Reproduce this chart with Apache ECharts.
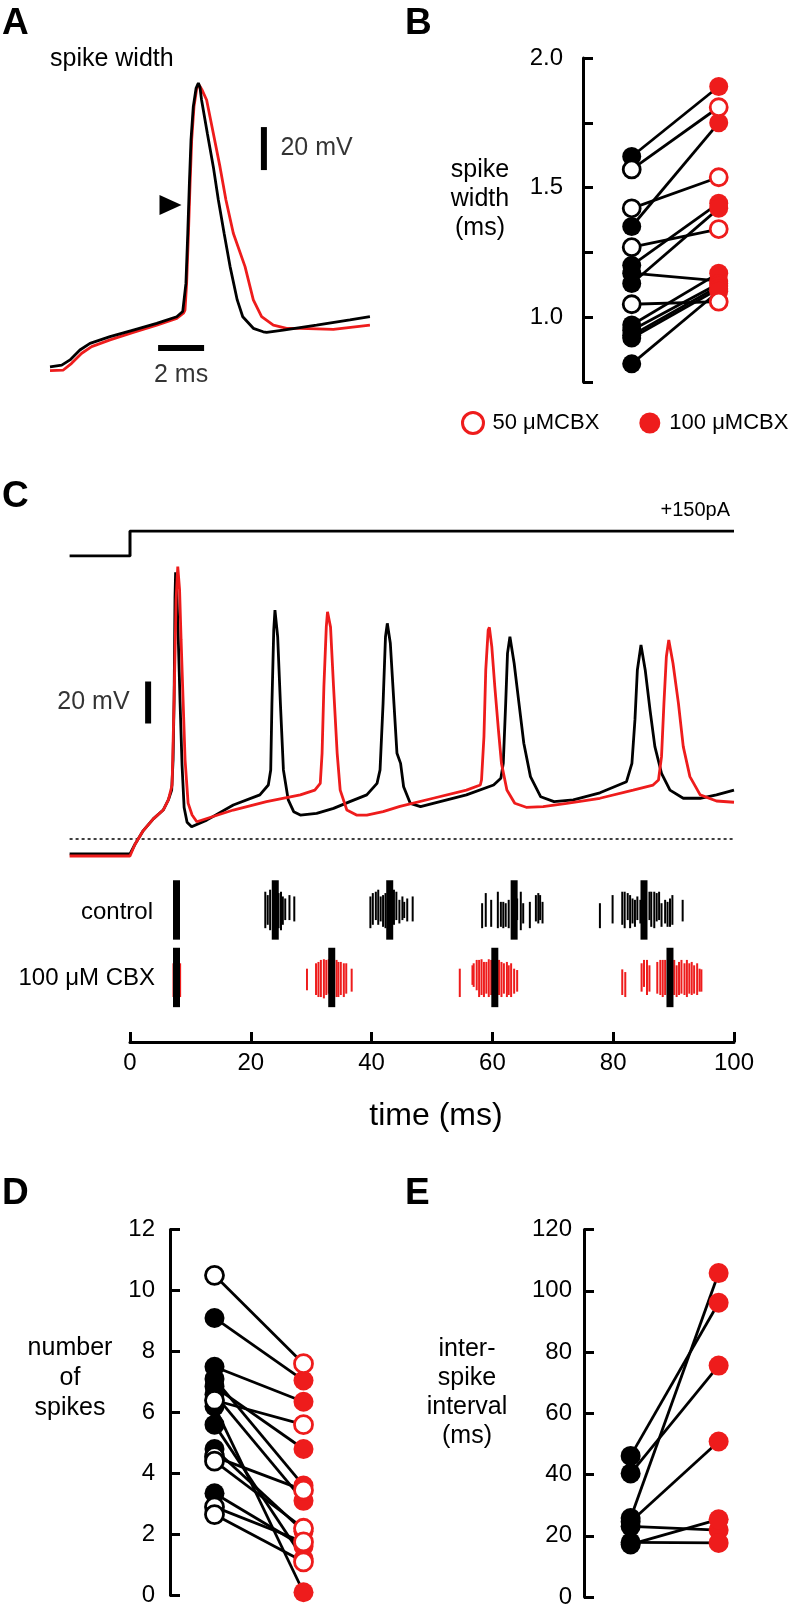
<!DOCTYPE html>
<html>
<head>
<meta charset="utf-8">
<script src="https://cdn.jsdelivr.net/npm/echarts@6/dist/echarts.min.js"></script>
<style>
html,body{margin:0;padding:0;background:#fff;}
#chart{width:798px;height:1614px;}
</style>
</head>
<body>
<div id="chart"></div>
<script>
// ---------------- DATA ----------------
// Panel A: single spike, time (ms) vs membrane potential (mV)
const aControl = [[0,-92],[0.51,-91.2],[0.87,-88.8],[1.30,-84.2],[1.74,-81.1],[2.61,-78],[3.62,-74.9],[4.64,-71.8],[5.51,-68.7],[5.77,-66.3],[5.84,-65.6],[5.91,-53.2],[5.99,-29.9],[6.06,-6.7],[6.13,13.5],[6.23,29],[6.35,37.5],[6.45,40],[6.52,38],[6.59,32.1],[6.84,16.6],[7.10,1.1],[7.32,-14.4],[7.57,-29.9],[7.83,-45.4],[8.14,-60.9],[8.38,-68.7],[8.84,-74.1],[9.27,-75.7],[9.42,-76],[10.14,-74.9],[11.59,-72.6],[13.04,-70.2],[13.91,-68.7]];
const aCbx = [[0,-93.8],[0.58,-93.5],[0.94,-90.4],[1.38,-85.7],[1.81,-82.6],[2.61,-79.5],[3.62,-76],[4.64,-72.6],[5.51,-69.5],[5.80,-67.1],[5.87,-65.6],[5.94,-53.2],[6.02,-29.9],[6.09,-6.7],[6.16,13.5],[6.26,29],[6.38,37.5],[6.49,39],[6.60,37],[6.81,32.1],[7.10,16.6],[7.39,1.1],[7.65,-14.4],[7.97,-29.9],[8.48,-45.4],[8.84,-60.9],[9.20,-68.7],[9.71,-72.6],[10.29,-74.1],[10.87,-74.1],[12.32,-74.6],[13.91,-72.6]];
const aScaleMv = 20, aScaleMs = 2;

// Panel B: spike width (ms), control vs CBX, paired cells
const bControl = [1.62, 1.57, 1.42, 1.35, 1.27, 1.20, 1.17, 1.13, 1.05, 0.97, 0.95, 0.93, 0.92, 0.82];
const bCbx     = [1.89, 1.81, 1.54, 1.75, 1.34, 1.44, 1.14, 1.42, 1.06, 1.17, 1.13, 1.12, 1.11, 1.10];
const bDose    = [100, 50, 50, 100, 50, 100, 100, 100, 50, 100, 100, 100, 100, 100];
const bTicks = ['1.0', '1.5', '2.0'];

// Panel C: current step (pA) and voltage traces (mV relative to dotted baseline)
const cStep = [[-10,0],[0,0],[0,150],[100,150]];
const cControl = [[-10,-7.1],[0,-7.1],[0.83,-2.5],[2.2,4],[3.86,9.6],[5.5,13.8],[6.35,18.6],[6.9,23.3],[7.13,37.6],[7.3,66.2],[7.45,115],[7.55,127],[7.7,122],[7.95,100],[8.29,65],[8.62,35],[8.96,15],[9.45,8],[10.2,5.8],[12.7,9],[17.1,16.2],[21.5,21],[22.9,25.7],[23.3,32.9],[23.5,64.6],[23.8,99.5],[24.0,109],[24.45,96.3],[24.9,64.6],[25.4,32.9],[26.2,18.6],[27.1,13],[28.2,11.4],[30.9,12.2],[33.7,14.6],[36.4,17.8],[39.2,21],[40.9,26.5],[41.4,32.9],[41.9,64.6],[42.3,96.3],[42.6,102.7],[43.1,93.2],[43.7,64.6],[44.2,40.8],[44.8,36],[45.3,24.9],[46.4,17],[48.1,15.4],[50.2,17],[55.7,21],[60.2,25.7],[61.4,28.9],[61.8,36],[62.2,64.6],[62.5,88.4],[62.9,96.3],[63.6,83.7],[64.4,64.6],[65.2,45.6],[66.3,29.7],[68.0,20.1],[70.2,17.8],[73.4,18.6],[77.8,22],[82.2,27.3],[83.1,36],[83.6,56.7],[84.0,80.5],[84.6,92.4],[85.3,80.5],[86.1,61.4],[86.9,44],[88.0,31.3],[89.4,23.3],[91.6,19.4],[94.4,19.4],[97.1,21],[100,23.3]];
const cCbx = [[-10,-8.1],[0,-8.1],[0.83,-2.5],[2.2,4],[3.86,9.6],[5.5,13.8],[6.35,18.6],[6.97,25.7],[7.30,66.2],[7.63,113.8],[7.91,129.7],[8.21,118.6],[8.46,94.8],[8.79,66.2],[9.12,37.6],[9.62,17.1],[10.28,11.4],[11.06,8.2],[17.1,13.8],[22.6,17.8],[28.2,21],[30.6,23.3],[31.5,26.5],[31.8,40.8],[32.1,72.5],[32.5,101],[32.7,108.2],[33.2,101],[33.7,72.5],[34.3,40.8],[34.8,23.3],[35.9,13.8],[37.5,11.4],[39.2,11.4],[41.9,13],[44.7,15.5],[50.2,19.4],[55.7,23.3],[58.0,25.7],[58.2,28.1],[58.6,48.7],[58.9,80.5],[59.3,99.5],[59.5,100.8],[59.9,91.6],[60.4,72.5],[61.0,51.9],[61.5,36],[62.4,23.3],[63.7,17],[65.6,15.1],[68.4,15.4],[72.3,17],[77.8,19.4],[83.3,23.3],[86.6,25.7],[87.5,28.1],[88.0,39.2],[88.4,64.6],[88.8,86.8],[89.2,94.8],[89.9,83.7],[90.8,64.6],[91.6,44],[92.7,29.7],[94.4,21],[97.1,18.1],[100,17.5]];
const cScaleMv = 20;
const timeTicks = [0, 20, 40, 60, 80, 100];

// Raster: [time ms, top, bottom] (control row = 1, CBX row = 0)
const ctrlSpikes = [
[22.4,1.27,0.73],[22.8,1.22,0.78],[23.2,1.30,0.70],[23.7,1.25,0.75],[24.6,1.25,0.73],[25.0,1.27,0.70],[25.3,1.20,0.78],[25.7,1.17,0.85],[26.4,1.22,0.85],[27.2,1.20,0.83],
[39.8,1.20,0.73],[40.2,1.25,0.78],[40.7,1.27,0.85],[41.1,1.30,0.78],[41.5,1.20,0.83],[41.9,1.22,0.75],[42.3,1.25,0.73],[43.7,1.30,0.78],[44.1,1.27,0.85],[44.6,1.15,0.80],[45.1,1.20,0.85],[45.4,1.12,0.88],[45.9,1.17,0.83],[46.8,1.20,0.83],
[58.3,1.10,0.73],[58.9,1.25,0.75],[59.8,1.15,0.75],[60.9,1.27,0.73],[61.4,1.12,0.75],[61.8,1.12,0.73],[62.2,1.10,0.75],[62.7,1.15,0.73],[64.1,1.17,0.85],[64.7,1.27,0.70],[65.1,1.10,0.80],[66.2,1.12,0.73],[67.2,1.22,0.83],[67.6,1.25,0.80],[67.9,1.22,0.85],[68.3,1.12,0.80],
[77.8,1.10,0.73],[79.9,1.22,0.80],[81.5,1.27,0.78],[81.9,1.27,0.73],[82.4,1.25,0.85],[82.8,1.22,0.73],[83.2,1.17,0.80],[83.6,1.15,0.75],[84.0,1.20,0.85],[84.5,1.15,0.80],[86.0,1.27,0.85],[86.3,1.27,0.75],[86.8,1.27,0.73],[87.2,1.25,0.83],[87.6,1.27,0.85],[88.0,1.10,0.75],[88.6,1.15,0.80],[89.0,1.12,0.75],[89.4,1.17,0.75],[89.8,1.22,0.78],[91.5,1.15,0.83]
];
const cbxSpikes = [
[7.2,0.21,-0.29],[8.3,0.21,-0.29],
[29.3,0.13,-0.19],[30.8,0.21,-0.26],[31.2,0.23,-0.29],[31.6,0.26,-0.29],[32.1,0.27,-0.31],[32.5,0.26,-0.26],[32.9,0.27,-0.24],[34.2,0.26,-0.29],[34.5,0.23,-0.29],[34.9,0.23,-0.26],[35.4,0.21,-0.29],[35.8,0.21,-0.24],[36.7,0.13,-0.21],
[54.6,0.13,-0.29],[56.7,0.18,-0.11],[56.9,0.21,-0.14],[57.4,0.26,-0.19],[57.8,0.26,-0.29],[58.2,0.27,-0.26],[58.6,0.23,-0.29],[59.0,0.23,-0.24],[59.4,0.27,-0.29],[59.8,0.26,-0.26],[61.1,0.26,-0.26],[61.5,0.23,-0.29],[61.9,0.21,-0.24],[62.4,0.23,-0.29],[62.7,0.18,-0.26],[63.1,0.21,-0.29],[63.6,0.13,-0.24],[64.1,0.11,-0.21],
[81.5,0.12,-0.26],[82.0,0.08,-0.29],[84.7,0.21,-0.21],[85.1,0.26,-0.14],[85.6,0.26,-0.26],[86.0,0.18,-0.21],[87.3,0.23,-0.24],[87.8,0.26,-0.26],[88.2,0.26,-0.29],[88.6,0.26,-0.26],[90.1,0.26,-0.26],[90.5,0.18,-0.29],[90.9,0.23,-0.26],[91.3,0.26,-0.24],[91.8,0.21,-0.26],[92.2,0.26,-0.29],[92.6,0.21,-0.24],[93.0,0.23,-0.26],[93.4,0.18,-0.24],[93.9,0.21,-0.26],[94.3,0.13,-0.21],[94.6,0.12,-0.21]
];
const ctrlMeanTimes = [7.7, 24.05, 43.0, 63.6, 85.1];
const cbxMeanTimes  = [7.7, 33.4, 60.4, 89.4];

// Panel D: number of spikes
const dControl = [10.5, 9.1, 7.5, 7.1, 6.85, 6.6, 6.4, 6.2, 5.6, 4.8, 4.55, 4.4, 3.35, 2.9, 2.65];
const dCbx     = [7.6, 7.05, 6.35, 3.6, 4.8, 3.1, 5.6, 0.1, 1.2, 2.1, 3.45, 2.2, 1.6, 1.75, 1.1];
const dDose    = [50, 100, 100, 100, 100, 100, 50, 100, 100, 100, 50, 50, 100, 50, 50];

// Panel E: inter-spike interval (ms)
const eControl = [46.1, 40.4, 25.8, 24.6, 23.1, 17.2, 17.9];
const eCbx     = [96.1, 75.6, 105.8, 50.8, 21.9, 25.4, 17.7];

// ---------------- STYLE ----------------
const FONT = "'Liberation Sans', Arial, Helvetica, sans-serif";
const RED = '#ee1c1c';
const BLACK = '#000';
const MEAN_HALF = 0.44;

function visibleAxis(extra) {
  return Object.assign({
    type: 'value',
    axisLine: { show: true, onZero: false, lineStyle: { color: BLACK, width: 3 } },
    axisTick: { show: true, inside: true, length: 10, lineStyle: { color: BLACK, width: 3 } },
    splitLine: { show: false },
    axisLabel: { color: BLACK, fontSize: 24, fontFamily: FONT }
  }, extra);
}
function hiddenAxis(gi, min, max) {
  return { type: 'value', gridIndex: gi, min: min, max: max, show: false };
}

const series = [];
// ---- Panel A ----
series.push({ type: 'line', xAxisIndex: 0, yAxisIndex: 0, data: aCbx, showSymbol: false, lineStyle: { color: RED, width: 2.8 }, z: 2, silent: true });
series.push({ type: 'line', xAxisIndex: 0, yAxisIndex: 0, data: aControl, showSymbol: false, lineStyle: { color: BLACK, width: 2.8 }, z: 3, silent: true });
// scale bars
series.push({ type: 'line', xAxisIndex: 0, yAxisIndex: 0, data: [[9.3, -0.5], [9.3, -0.5 + aScaleMv]], showSymbol: false, lineStyle: { color: BLACK, width: 6, cap: 'butt' }, silent: true });
series.push({ type: 'line', xAxisIndex: 0, yAxisIndex: 0, data: [[4.7, -83.3], [4.7 + aScaleMs, -83.3]], showSymbol: false, lineStyle: { color: BLACK, width: 6, cap: 'butt' }, silent: true });
series.push({ type: 'scatter', xAxisIndex: 0, yAxisIndex: 0, data: [[9.3, 9.5]], symbolSize: 1, itemStyle: { color: 'rgba(0,0,0,0)' }, silent: true,
  label: { show: true, position: 'right', distance: 16, formatter: aScaleMv + ' mV', color: BLACK, fontSize: 25, fontFamily: FONT } });
series.push({ type: 'scatter', xAxisIndex: 0, yAxisIndex: 0, data: [[4.7 + aScaleMs / 2, -83.3]], symbolSize: 1, itemStyle: { color: 'rgba(0,0,0,0)' }, silent: true,
  label: { show: true, position: 'bottom', distance: 14, formatter: aScaleMs + ' ms', color: BLACK, fontSize: 25, fontFamily: FONT } });
// arrowhead
series.push({ type: 'scatter', xAxisIndex: 0, yAxisIndex: 0, data: [[5.24, -16.7]], symbol: 'triangle', symbolSize: [20, 22], symbolRotate: -90, itemStyle: { color: BLACK, opacity: 1 }, silent: true });

// ---- paired plots helper ----
function pairedPlot(ai, ctrl, cbx, dose, size, lineW) {
  for (let i = 0; i < ctrl.length; i++) {
    series.push({ type: 'line', xAxisIndex: ai, yAxisIndex: ai, data: [[0, ctrl[i]], [1, cbx[i]]], showSymbol: false,
      lineStyle: { color: BLACK, width: lineW }, z: 2, silent: true });
  }
  const lf = [], lo = [], rf = [], ro = [];
  for (let i = 0; i < ctrl.length; i++) {
    const open = dose && dose[i] === 50;
    (open ? lo : lf).push([0, ctrl[i]]);
    (open ? ro : rf).push([1, cbx[i]]);
  }
  series.push({ type: 'scatter', xAxisIndex: ai, yAxisIndex: ai, data: lf, symbolSize: size, itemStyle: { color: BLACK, opacity: 1 }, z: 3, silent: true });
  series.push({ type: 'scatter', xAxisIndex: ai, yAxisIndex: ai, data: rf, symbolSize: size, itemStyle: { color: RED, opacity: 1 }, z: 3, silent: true,
    name: ai === 1 ? '100 μMCBX' : undefined });
  if (lo.length) {
    series.push({ type: 'scatter', xAxisIndex: ai, yAxisIndex: ai, data: lo, symbolSize: size - 2, itemStyle: { color: '#fff', borderColor: BLACK, borderWidth: 2.8, opacity: 1 }, z: 4, silent: true });
    series.push({ type: 'scatter', xAxisIndex: ai, yAxisIndex: ai, data: ro, symbolSize: size - 2, itemStyle: { color: '#fff', borderColor: RED, borderWidth: 2.8, opacity: 1 }, z: 4, silent: true,
      name: ai === 1 ? '50 μMCBX' : undefined });
  }
}
pairedPlot(1, bControl, bCbx, bDose, 19, 2.8);

// ---- Panel C ----
series.push({ type: 'line', xAxisIndex: 2, yAxisIndex: 2, data: cStep, showSymbol: false, lineStyle: { color: BLACK, width: 3 }, silent: true });
series.push({ type: 'line', xAxisIndex: 3, yAxisIndex: 3, data: [[-10, 0], [100, 0]], showSymbol: false, lineStyle: { color: BLACK, width: 1.5, type: [3, 3] }, silent: true, z: 1 });
series.push({ type: 'line', xAxisIndex: 3, yAxisIndex: 3, data: cControl, showSymbol: false, lineStyle: { color: BLACK, width: 2.8 }, silent: true, z: 2 });
series.push({ type: 'line', xAxisIndex: 3, yAxisIndex: 3, data: cCbx, showSymbol: false, lineStyle: { color: RED, width: 2.8 }, silent: true, z: 3 });
series.push({ type: 'line', xAxisIndex: 3, yAxisIndex: 3, data: [[3.0, 55], [3.0, 55 + cScaleMv]], showSymbol: false, lineStyle: { color: BLACK, width: 6, cap: 'butt' }, silent: true });
series.push({ type: 'scatter', xAxisIndex: 3, yAxisIndex: 3, data: [[3.0, 65]], symbolSize: 1, itemStyle: { color: 'rgba(0,0,0,0)' }, silent: true,
  label: { show: true, position: 'left', distance: 18, formatter: cScaleMv + ' mV', color: BLACK, fontSize: 25, fontFamily: FONT } });

function tickRenderer(color, width) {
  return function (params, api) {
    const a = api.coord([api.value(0), api.value(1)]);
    const b = api.coord([api.value(0), api.value(2)]);
    return { type: 'line', shape: { x1: a[0], y1: a[1], x2: b[0], y2: b[1] }, style: { stroke: color, lineWidth: width } };
  };
}
series.push({ type: 'custom', xAxisIndex: 4, yAxisIndex: 4, data: ctrlSpikes, encode: { x: 0, y: [1, 2] }, renderItem: tickRenderer(BLACK, 2), silent: true, z: 2 });
series.push({ type: 'custom', xAxisIndex: 4, yAxisIndex: 4, data: cbxSpikes, encode: { x: 0, y: [1, 2] }, renderItem: tickRenderer(RED, 2), silent: true, z: 2 });
series.push({ type: 'custom', xAxisIndex: 4, yAxisIndex: 4, data: ctrlMeanTimes.map(t => [t, 1 + MEAN_HALF, 1 - MEAN_HALF]), encode: { x: 0, y: [1, 2] }, renderItem: tickRenderer(BLACK, 7), silent: true, z: 3 });
series.push({ type: 'custom', xAxisIndex: 4, yAxisIndex: 4, data: cbxMeanTimes.map(t => [t, MEAN_HALF, -MEAN_HALF]), encode: { x: 0, y: [1, 2] }, renderItem: tickRenderer(BLACK, 7), silent: true, z: 3 });

// ---- Panels D, E ----
pairedPlot(5, dControl, dCbx, dDose, 20, 2.8);
pairedPlot(6, eControl, eCbx, null, 20, 2.8);

// ---------------- TEXT ----------------
function T(text, x, y, size, align, extra) {
  return { type: 'text', x: x, y: y, silent: true,
    style: Object.assign({ text: text, fontSize: size, fontFamily: FONT, fill: BLACK,
      textAlign: align, textVerticalAlign: 'middle', align: align, verticalAlign: 'middle' }, extra || {}) };
}
const graphics = [
  T('A', 2, 24, 37, 'left', { fontWeight: 'bold' }),
  T('spike width', 50, 59, 25, 'left'),
  T('B', 405, 24, 37, 'left', { fontWeight: 'bold' }),
  T('spike\nwidth\n(ms)', 480, 199, 25, 'center', { lineHeight: 29 }),
  T('C', 2, 497, 37, 'left', { fontWeight: 'bold' }),
  T('+150pA', 730, 510, 20, 'right'),
  T('control', 153, 912, 24, 'right'),
  T('100 μM CBX', 155, 978, 24, 'right'),
  T('time (ms)', 436, 1116, 32, 'center'),
  T('D', 2, 1194, 37, 'left', { fontWeight: 'bold' }),
  T('number\nof\nspikes', 70, 1378, 25, 'center', { lineHeight: 30 }),
  T('E', 405, 1194, 37, 'left', { fontWeight: 'bold' }),
  T('inter-\nspike\ninterval\n(ms)', 467, 1393, 25, 'center', { lineHeight: 29 })
];

const option = {
  animation: false,
  backgroundColor: '#fff',
  grid: [
    { left: 50, top: 83, width: 322, height: 301 },
    { left: 583, top: 58, width: 174, height: 324 },
    { left: 69.6, top: 531, width: 664.4, height: 25 },
    { left: 69.6, top: 545, width: 664.4, height: 315 },
    { left: 130, top: 876.2, width: 604, height: 165.8 },
    { left: 170, top: 1229.6, width: 178, height: 365.7 },
    { left: 584, top: 1229.6, width: 176, height: 367.5 }
  ],
  xAxis: [
    hiddenAxis(0, 0, 14),
    hiddenAxis(1, -0.56, 1.44),
    hiddenAxis(2, -10, 100),
    hiddenAxis(3, -10, 100),
    visibleAxis({ gridIndex: 4, min: 0, max: 100, interval: 20, position: 'bottom',
      axisLabel: { color: BLACK, fontSize: 24, fontFamily: FONT, margin: 9,
        formatter: v => timeTicks.indexOf(v) >= 0 ? String(v) : '' } }),
    hiddenAxis(5, -0.5, 1.5),
    hiddenAxis(6, -0.53, 1.47)
  ],
  yAxis: [
    hiddenAxis(0, -100, 40),
    visibleAxis({ gridIndex: 1, min: 0.75, max: 2.0, interval: 0.25,
      axisLabel: { color: BLACK, fontSize: 24, fontFamily: FONT, margin: 20,
        formatter: v => { const s = v.toFixed(1); return (bTicks.indexOf(s) >= 0 && Math.abs(v - parseFloat(s)) < 1e-6) ? s : ''; } } }),
    hiddenAxis(2, 0, 150),
    hiddenAxis(3, -10, 140),
    hiddenAxis(4, -0.956, 1.5),
    visibleAxis({ gridIndex: 5, min: 0, max: 12, interval: 2,
      axisLabel: { color: BLACK, fontSize: 24, fontFamily: FONT, margin: 15 } }),
    visibleAxis({ gridIndex: 6, min: 0, max: 120, interval: 20,
      axisLabel: { color: BLACK, fontSize: 24, fontFamily: FONT, margin: 12 } })
  ],
  legend: {
    left: 461, top: 411, width: 337, orient: 'horizontal', itemWidth: 21, itemHeight: 21, itemGap: 40,
    padding: 0,
    selectedMode: false,
    textStyle: { color: BLACK, fontSize: 22, fontFamily: FONT, padding: [0, 0, 0, 4] },
    data: [
      { name: '50 μMCBX', icon: 'circle', itemStyle: { color: '#fff', borderColor: RED, borderWidth: 3, opacity: 1 } },
      { name: '100 μMCBX', icon: 'circle', itemStyle: { color: RED, opacity: 1 } }
    ]
  },
  graphic: graphics,
  series: series
};

const chart = echarts.init(document.getElementById('chart'), null, { renderer: 'canvas' });
chart.setOption(option);
</script>
</body>
</html>
